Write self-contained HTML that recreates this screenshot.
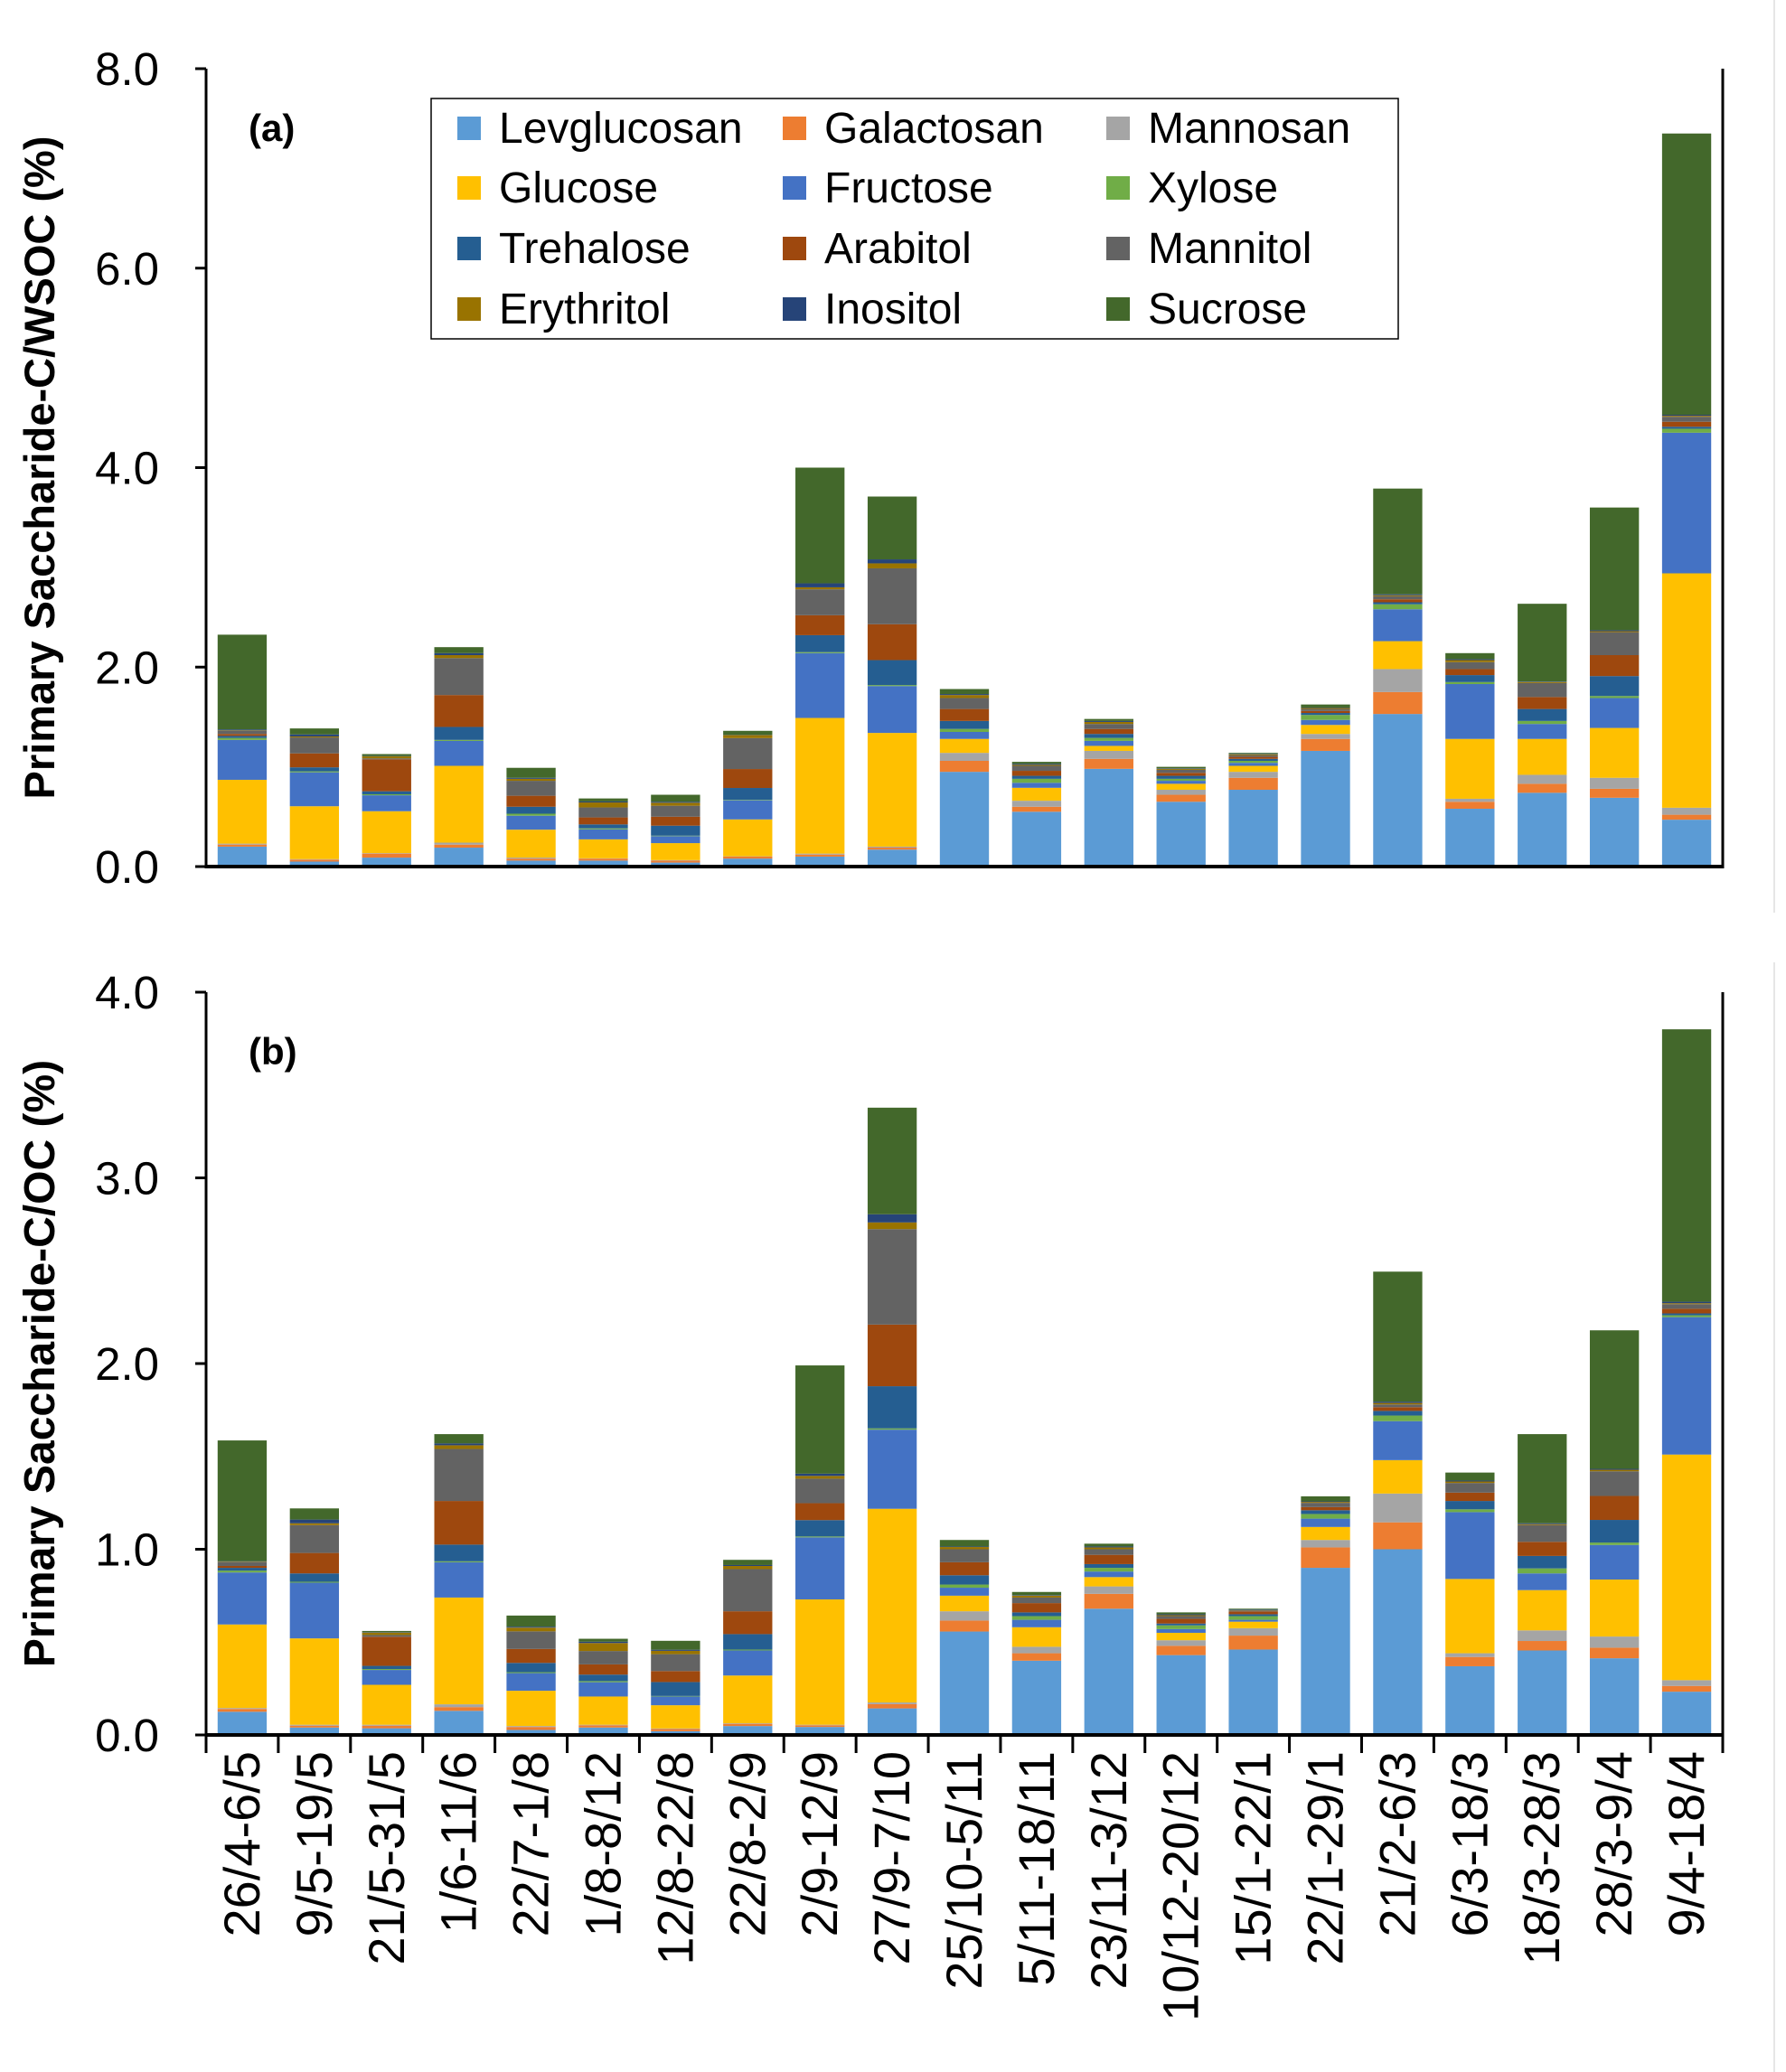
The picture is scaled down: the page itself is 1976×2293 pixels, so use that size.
<!DOCTYPE html>
<html><head><meta charset="utf-8">
<style>
html,body{margin:0;padding:0;background:#fff;}
svg{display:block;font-family:"Liberation Sans","DejaVu Sans",sans-serif;}
</style></head>
<body>
<svg id="chart" width="1976" height="2293" viewBox="0 0 1976 2293" xmlns="http://www.w3.org/2000/svg">
<line x1="1963" y1="0" x2="1963" y2="1010" stroke="#e6e6e6" stroke-width="2"/>
<line x1="1963" y1="1065" x2="1963" y2="2293" stroke="#e6e6e6" stroke-width="2"/>
<g id="pa"></g>
<g id="pb"></g>
<g id="xl"></g>
<g id="legend"></g>
</svg>
<script>
const categories = ["26/4-6/5","9/5-19/5","21/5-31/5","1/6-11/6","22/7-1/8","1/8-8/12","12/8-22/8","22/8-2/9","2/9-12/9","27/9-7/10","25/10-5/11","5/11-18/11","23/11-3/12","10/12-20/12","15/1-22/1","22/1-29/1","21/2-6/3","6/3-18/3","18/3-28/3","28/3-9/4","9/4-18/4"];
const seriesNames = ["Levglucosan","Galactosan","Mannosan","Glucose","Fructose","Xylose","Trehalose","Arabitol","Mannitol","Erythritol","Inositol","Sucrose"];
const seriesColors = ["#5b9bd5","#ed7d31","#a5a5a5","#ffc000","#4472c4","#70ad47","#255e91","#9e480e","#636363","#997300","#264478","#43682b"];
const ticksA = ["0.0","2.0","4.0","6.0","8.0"];
const ticksB = ["0.0","1.0","2.0","3.0","4.0"];
// Panel (a): rows per bar, columns in series order
const valuesA = [
[.20,.02,.01,.64,.40,.02,.02,.02,.03,.005,.01,.95],
[.05,.02,.005,.53,.34,.01,.04,.14,.16,.01,.02,.06],
[.09,.04,.005,.42,.16,.01,.03,.32,.01,.02,.003,.02],
[.19,.03,.02,.77,.25,.01,.13,.32,.37,.03,.02,.06],
[.06,.02,.01,.28,.14,.02,.07,.11,.15,.02,.01,.10],
[.06,.02,.003,.19,.10,.01,.04,.07,.10,.05,.01,.03],
[.04,.02,.005,.17,.07,.005,.10,.09,.11,.03,.01,.07],
[.08,.02,.003,.37,.19,.005,.12,.19,.31,.03,.003,.04],
[.10,.02,.01,1.36,.65,.01,.17,.20,.26,.02,.04,1.16],
[.17,.02,.01,1.14,.47,.01,.25,.36,.56,.05,.04,.63],
[.95,.11,.08,.14,.07,.03,.08,.12,.11,.03,.01,.05],
[.55,.05,.06,.13,.05,.04,.03,.05,.05,.01,.01,.02],
[.98,.10,.08,.05,.05,.03,.04,.05,.05,.02,.01,.02],
[.65,.07,.05,.06,.03,.02,.03,.03,.03,.01,.005,.015],
[.77,.12,.06,.06,.03,.02,.02,.02,.015,.01,.005,.01],
[1.16,.12,.05,.09,.05,.05,.02,.02,.02,.01,.005,.03],
[1.53,.22,.23,.28,.32,.05,.02,.03,.03,.01,.01,1.06],
[.58,.07,.03,.60,.55,.02,.07,.06,.07,.02,.01,.06],
[.74,.09,.09,.36,.15,.03,.12,.12,.14,.01,.005,.78],
[.69,.09,.11,.50,.30,.02,.20,.21,.23,.01,.01,1.23],
[.47,.05,.07,2.35,1.41,.04,.02,.05,.05,.01,.01,2.82]];
// Panel (b)
const valuesB = [
[.125,.015,.005,.45,.28,.01,.015,.01,.02,.003,.003,.65],
[.04,.01,.005,.465,.30,.005,.045,.11,.15,.01,.02,.06],
[.036,.014,.005,.215,.08,.005,.017,.157,.009,.013,.002,.007],
[.13,.02,.015,.575,.19,.005,.09,.235,.28,.02,.01,.05],
[.027,.016,.005,.19,.095,.005,.05,.075,.095,.02,.005,.06],
[.04,.012,.003,.152,.077,.006,.035,.055,.072,.043,.007,.016],
[.02,.012,.003,.125,.047,.003,.075,.059,.091,.018,.006,.048],
[.048,.012,.003,.257,.135,.005,.083,.123,.227,.017,.005,.028],
[.043,.009,.003,.675,.334,.005,.088,.091,.132,.015,.012,.583],
[.143,.023,.009,1.043,.426,.007,.227,.332,.514,.036,.044,.574],
[.557,.059,.05,.084,.043,.017,.05,.07,.07,.012,.003,.035],
[.40,.04,.035,.105,.04,.02,.02,.05,.03,.01,.003,.017],
[.68,.08,.04,.05,.03,.02,.02,.05,.03,.01,.005,.015],
[.43,.05,.03,.04,.02,.02,.01,.025,.015,.005,.005,.01],
[.46,.075,.04,.035,.01,.02,.01,.015,.005,.002,.003,.005],
[.90,.11,.04,.07,.045,.025,.02,.017,.023,.005,.003,.027],
[1.00,.145,.155,.18,.21,.03,.025,.02,.015,.008,.007,.70],
[.37,.05,.02,.40,.36,.015,.045,.045,.052,.008,.005,.043],
[.455,.051,.057,.217,.09,.027,.067,.076,.09,.005,.005,.48],
[.413,.057,.06,.307,.186,.013,.122,.129,.133,.008,.005,.746],
[.233,.031,.031,1.215,.74,.01,.01,.025,.025,.005,.008,1.467]];

const NS="http://www.w3.org/2000/svg";
const X0=228, X1=1906, slot=(X1-X0)/categories.length, bw=slot*0.68;
function xPos(i){return X0+slot*(i+0.5);}
function mk(tag,attrs,parent){const e=document.createElementNS(NS,tag);for(const k in attrs)e.setAttribute(k,attrs[k]);parent.appendChild(e);return e;}

function drawPanel(g,vals,ticks,maxV,yTop,yBot,title,tag,pname,titleSize){
  const yS=v=>yBot-(v/maxV)*(yBot-yTop);
  vals.forEach((row,i)=>{
    let cum=0;
    row.forEach((v,s)=>{
      const y1=yS(cum), y2=yS(cum+v); cum+=v;
      const r=mk('rect',{x:xPos(i)-bw/2,y:y2,width:bw,height:Math.max(0,y1-y2),fill:seriesColors[s]},g);
      
      
    });
  });
  mk('line',{x1:X0,y1:yTop,x2:X0,y2:yBot+2,stroke:'#000','stroke-width':3},g);
  mk('line',{x1:X1,y1:yTop,x2:X1,y2:yBot+2,stroke:'#000','stroke-width':3},g);
  mk('line',{x1:X0-1,y1:yBot,x2:X1+1,y2:yBot,stroke:'#000','stroke-width':4},g);
  ticks.forEach((t,k)=>{
    const v=parseFloat(t), y=yS(v);
    mk('line',{x1:X0-12,y1:y,x2:X0,y2:y,stroke:'#000','stroke-width':3},g);
    const tx=mk('text',{x:176,y:y+18,'text-anchor':'end','font-size':51,fill:'#000'},g);
    tx.textContent=t;
    
    
  });
  const cy=(yTop+yBot)/2;
  const at=mk('text',{x:0,y:0,transform:'translate(60,'+cy+') rotate(-90)','text-anchor':'middle','font-size':titleSize,'font-weight':'bold',fill:'#000'},g);
  at.textContent=title;
  
  
  const pl=mk('text',{x:275,y:yTop+80,'font-size':42,'font-weight':'bold',fill:'#000'},g);
  pl.textContent=tag;
  
  
}
drawPanel(document.getElementById('pa'),valuesA,ticksA,8,76,959,'Primary Saccharide-C/WSOC (%)','(a)','panel-a',47);
drawPanel(document.getElementById('pb'),valuesB,ticksB,4,1098,1920,'Primary Saccharide-C/OC (%)','(b)','panel-b',48);

const xl=document.getElementById('xl');
for(let i=0;i<=categories.length;i++){
  const x=X0+slot*i;
  mk('line',{x1:x,y1:1920,x2:x,y2:1940,stroke:'#000','stroke-width':3},xl);
}
categories.forEach((c,i)=>{
  const t=mk('text',{x:0,y:0,transform:'translate('+(xPos(i)+19)+',1938) rotate(-90)','text-anchor':'end','font-size':56,fill:'#000'},xl);
  t.textContent=c;
  
  
});

const lg=document.getElementById('legend');
mk('rect',{x:477,y:109,width:1070,height:266,fill:'#fff',stroke:'#000','stroke-width':1.5},lg);
const colX=[506,866,1224], rowY=[142,208,275,342];
seriesNames.forEach((n,s)=>{
  const c=s%3, r=Math.floor(s/3);
  const sw=mk('rect',{x:colX[c],y:rowY[r]-13,width:26,height:26,fill:seriesColors[s]},lg);
  
  
  const t=mk('text',{x:colX[c]+46,y:rowY[r]+16,'font-size':48,fill:'#000'},lg);
  t.textContent=n;
  
  
});
</script>
</body></html>
